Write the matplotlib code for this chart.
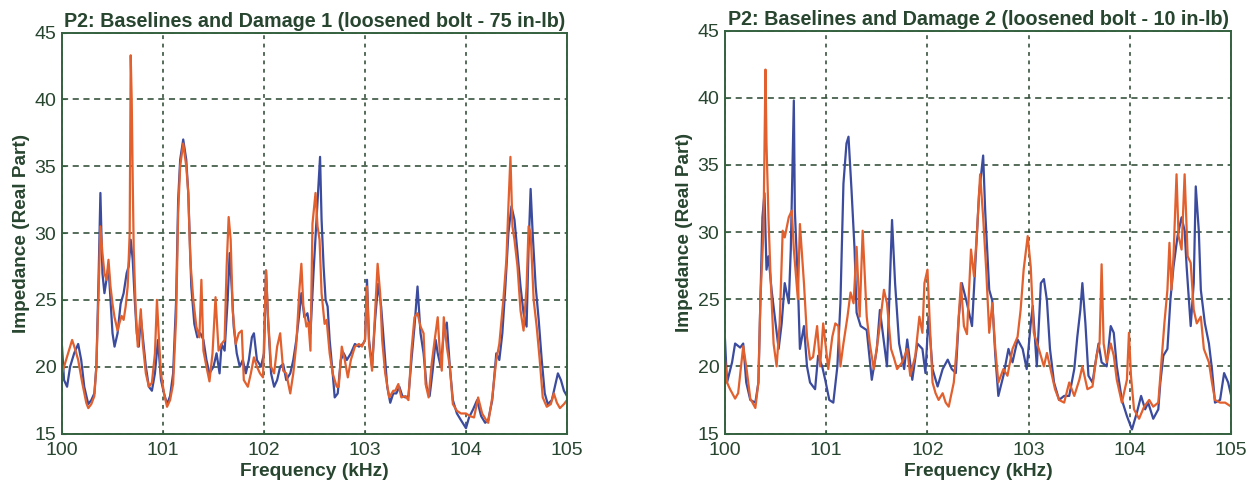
import matplotlib
matplotlib.use("Agg")
import matplotlib.pyplot as plt

# =====================================================
# DATA
# =====================================================

# Panel 1: baseline (blue) and damage 1 (orange)
f_base1 = [100.00, 100.02, 100.05, 100.08, 100.12, 100.16, 100.19, 100.22, 100.26, 100.29,
           100.32, 100.34, 100.36, 100.38, 100.40, 100.42, 100.44, 100.46, 100.48, 100.50,
           100.52, 100.55, 100.58, 100.61, 100.64, 100.66, 100.68, 100.70, 100.72, 100.74,
           100.76, 100.78, 100.80, 100.83, 100.86, 100.89, 100.92, 100.95, 100.98, 101.01,
           101.04, 101.07, 101.10, 101.13, 101.15, 101.17, 101.20, 101.23, 101.25, 101.28,
           101.31, 101.34, 101.37, 101.40, 101.43, 101.46, 101.50, 101.53, 101.56, 101.58,
           101.61, 101.64, 101.66, 101.68, 101.70, 101.73, 101.76, 101.79, 101.82, 101.85,
           101.88, 101.90, 101.93, 101.97, 102.00, 102.02, 102.04, 102.07, 102.10, 102.13,
           102.16, 102.19, 102.22, 102.26, 102.29, 102.32, 102.35, 102.37, 102.40, 102.43,
           102.46, 102.49, 102.52, 102.555, 102.57, 102.59, 102.61, 102.63, 102.65, 102.68,
           102.70, 102.73, 102.76, 102.79, 102.82, 102.86, 102.90, 102.94, 102.98, 103.00,
           103.02, 103.04, 103.07, 103.10, 103.13, 103.16, 103.19, 103.22, 103.25, 103.28,
           103.31, 103.34, 103.37, 103.40, 103.43, 103.46, 103.49, 103.52, 103.55, 103.58,
           103.61, 103.64, 103.67, 103.70, 103.72, 103.75, 103.78, 103.81, 103.84, 103.87,
           103.91, 103.95, 104.00, 104.03, 104.07, 104.11, 104.15, 104.19, 104.22, 104.26,
           104.30, 104.33, 104.36, 104.39, 104.42, 104.45, 104.48, 104.51, 104.54, 104.57,
           104.60, 104.62, 104.64, 104.66, 104.69, 104.72, 104.75, 104.78, 104.81, 104.85,
           104.88, 104.91, 104.94, 104.97, 105.00]
z_base1 = [21.5, 19.0, 18.5, 20.0, 21.0, 21.7, 20.5, 18.5, 17.2, 17.5,
           18.0, 20.0, 26.0, 33.0, 27.0, 25.5, 26.5, 27.5, 25.0, 22.5,
           21.5, 22.5, 24.7, 25.5, 27.0, 27.5, 29.5, 28.0, 25.0, 22.5,
           21.5, 23.7, 22.2, 20.0, 18.5, 18.2, 19.5, 22.0, 19.0, 18.0,
           17.2, 17.8, 19.5, 25.0, 32.5, 35.5, 37.0, 35.5, 33.0, 26.0,
           23.2, 22.2, 22.5, 22.0, 20.5, 19.5, 20.0, 21.0, 19.5, 21.7,
           21.2, 25.0, 28.5, 26.0, 23.0, 21.0, 20.0, 20.5, 19.5, 20.5,
           22.2, 22.5, 20.5, 20.0, 21.0, 27.2, 23.5, 19.5, 18.5, 19.0,
           20.0, 20.2, 19.0, 19.5, 20.5, 22.0, 24.0, 25.5, 23.7, 24.0,
           22.5, 27.0, 31.0, 35.7, 31.0, 27.5, 25.0, 24.5, 22.0, 19.5,
           17.7, 18.0, 20.5, 21.0, 20.5, 21.0, 21.7, 21.5, 21.7, 22.0,
           26.5, 22.0, 20.0, 23.5, 26.2, 24.5, 21.5, 18.5, 17.3, 18.0,
           18.0, 18.5, 17.8, 17.7, 17.8, 20.5, 23.0, 26.0, 22.5, 21.0,
           18.5, 17.8, 19.7, 22.0, 21.0, 20.0, 22.5, 23.3, 20.0, 17.5,
           16.5, 16.0, 15.4, 16.2, 16.8, 17.5, 16.3, 15.8, 16.0, 17.5,
           21.0, 20.5, 22.5, 26.0, 30.0, 32.0, 31.0, 28.5, 26.0, 24.0,
           23.0, 29.0, 33.3, 30.0, 26.0, 23.5, 20.5, 18.0, 17.2, 17.5,
           18.5, 19.5, 19.0, 18.2, 17.8]

f_dmg1 = [100.00, 100.04, 100.08, 100.10, 100.13, 100.16, 100.20, 100.24, 100.26, 100.29,
          100.32, 100.34, 100.36, 100.38, 100.40, 100.42, 100.44, 100.46, 100.48, 100.50,
          100.52, 100.55, 100.57, 100.59, 100.61, 100.63, 100.65, 100.67, 100.68, 100.69,
          100.70, 100.71, 100.73, 100.75, 100.78, 100.80, 100.83, 100.86, 100.89, 100.92,
          100.94, 100.96, 100.98, 101.01, 101.04, 101.07, 101.10, 101.13, 101.15, 101.17,
          101.20, 101.23, 101.25, 101.27, 101.30, 101.33, 101.36, 101.38, 101.40, 101.43,
          101.46, 101.49, 101.52, 101.55, 101.58, 101.61, 101.63, 101.65, 101.67, 101.69,
          101.72, 101.75, 101.78, 101.80, 101.84, 101.87, 101.90, 101.93, 101.96, 101.99,
          102.02, 102.04, 102.07, 102.10, 102.13, 102.16, 102.19, 102.22, 102.26, 102.29,
          102.32, 102.35, 102.37, 102.39, 102.42, 102.44, 102.46, 102.48, 102.51, 102.53,
          102.55, 102.57, 102.60, 102.62, 102.65, 102.68, 102.72, 102.74, 102.77, 102.80,
          102.83, 102.86, 102.90, 102.94, 102.97, 103.00, 103.02, 103.04, 103.07, 103.10,
          103.125, 103.15, 103.17, 103.20, 103.24, 103.28, 103.30, 103.33, 103.36, 103.40,
          103.43, 103.46, 103.49, 103.52, 103.55, 103.58, 103.60, 103.63, 103.66, 103.69,
          103.72, 103.74, 103.76, 103.78, 103.81, 103.84, 103.87, 103.91, 103.95, 104.00,
          104.04, 104.08, 104.12, 104.16, 104.20, 104.22, 104.26, 104.30, 104.33, 104.37,
          104.40, 104.42, 104.44, 104.46, 104.48, 104.51, 104.54, 104.57, 104.60, 104.62,
          104.64, 104.67, 104.70, 104.73, 104.76, 104.80, 104.84, 104.87, 104.90, 104.93,
          104.97, 105.00]
z_dmg1 = [19.5, 20.5, 21.5, 22.0, 21.3, 20.5, 18.8, 17.3, 16.9, 17.2,
          17.8, 20.0, 25.0, 30.5, 28.5, 27.0, 26.5, 28.0, 26.0, 24.7,
          23.7, 22.7, 23.3, 23.8, 23.5, 24.5, 26.0, 30.0, 43.3, 40.0,
          34.0, 28.7, 24.2, 21.5, 24.3, 21.7, 19.5, 18.5, 18.8, 21.0,
          25.0, 22.0, 19.5, 18.0, 17.0, 17.5, 18.7, 23.7, 31.5, 35.0,
          36.7, 35.0, 33.0, 28.0, 25.0, 23.0, 22.2, 26.5, 21.2, 20.0,
          18.9, 21.0, 25.2, 21.2, 21.7, 22.0, 27.5, 31.2, 29.5, 24.2,
          21.7, 22.5, 22.7, 19.0, 18.5, 19.5, 20.7, 20.0, 19.5, 19.2,
          27.2, 23.7, 20.0, 19.5, 21.5, 22.5, 19.7, 19.5, 18.0, 19.5,
          21.7, 25.7, 27.7, 24.5, 23.0, 23.3, 21.2, 30.7, 33.0, 30.5,
          29.5, 25.5, 23.2, 23.5, 21.0, 19.5, 18.5, 18.5, 21.5, 20.5,
          19.2, 20.5, 21.5, 21.7, 21.5, 22.0, 26.0, 21.7, 19.7, 24.0,
          27.7, 25.5, 22.0, 19.5, 17.7, 18.2, 18.2, 18.7, 17.7, 17.8,
          17.5, 21.2, 23.7, 24.0, 23.0, 22.5, 18.7, 17.7, 20.2, 22.0,
          23.7, 21.2, 19.7, 23.7, 21.5, 20.0, 17.2, 16.7, 16.5, 16.5,
          16.3, 16.2, 17.7, 16.5, 16.0, 15.8, 17.7, 20.5, 21.7, 25.0,
          28.0, 32.0, 35.7, 30.5, 29.5, 27.5, 24.2, 22.7, 26.0, 30.5,
          30.0, 25.0, 23.0, 20.5, 17.7, 17.0, 17.2, 18.0, 17.3, 16.9,
          17.2, 17.5]

# Panel 2: baseline (blue) and damage 2 (orange)
f_base2 = [100.00, 100.02, 100.07, 100.10, 100.15, 100.18, 100.21, 100.25, 100.30, 100.33,
           100.35, 100.37, 100.39, 100.41, 100.43, 100.46, 100.50, 100.53, 100.56, 100.59,
           100.63, 100.65, 100.68, 100.69, 100.72, 100.74, 100.78, 100.81, 100.84, 100.89,
           100.92, 100.96, 100.99, 101.03, 101.07, 101.11, 101.14, 101.17, 101.20, 101.22,
           101.25, 101.28, 101.30, 101.34, 101.40, 101.45, 101.50, 101.53, 101.60, 101.65,
           101.68, 101.72, 101.77, 101.80, 101.85, 101.90, 101.95, 101.98, 102.01, 102.05,
           102.10, 102.15, 102.20, 102.24, 102.28, 102.31, 102.34, 102.39, 102.44, 102.48,
           102.51, 102.55, 102.57, 102.61, 102.64, 102.67, 102.70, 102.75, 102.80, 102.84,
           102.89, 102.94, 102.98, 103.02, 103.04, 103.08, 103.12, 103.15, 103.18, 103.21,
           103.25, 103.30, 103.35, 103.40, 103.45, 103.48, 103.51, 103.53, 103.56, 103.59,
           103.63, 103.66, 103.69, 103.72, 103.77, 103.81, 103.84, 103.87, 103.92, 103.97,
           104.02, 104.07, 104.11, 104.15, 104.18, 104.23, 104.28, 104.30, 104.33, 104.37,
           104.40, 104.43, 104.47, 104.51, 104.54, 104.56, 104.60, 104.63, 104.65, 104.68,
           104.70, 104.74, 104.78, 104.81, 104.84, 104.89, 104.93, 104.97, 105.00]
z_base2 = [22.0, 18.8, 20.3, 21.7, 21.4, 21.7, 18.8, 17.5, 17.3, 18.8,
           25.0, 31.1, 32.9, 27.2, 28.2, 25.7, 23.2, 21.3, 23.2, 26.2,
           24.7, 28.7, 39.8, 31.6, 26.2, 21.3, 23.0, 20.0, 18.8, 18.3,
           20.8, 20.0, 19.0, 17.5, 17.3, 20.0, 24.7, 33.6, 36.6, 37.1,
           33.1, 28.7, 24.0, 23.0, 22.7, 19.0, 21.3, 24.2, 20.0, 30.9,
           26.2, 21.7, 19.8, 22.0, 19.0, 21.7, 21.3, 19.5, 23.7, 19.8,
           18.5, 19.8, 20.5, 19.8, 19.5, 23.7, 26.2, 24.7, 23.0, 28.7,
           32.9, 35.7, 31.6, 25.7, 24.9, 20.8, 17.8, 19.3, 21.3, 20.3,
           22.0, 21.3, 19.8, 23.2, 24.5, 20.0, 26.2, 26.5, 24.9, 21.3,
           18.8, 17.5, 17.8, 17.8, 19.8, 22.2, 24.2, 26.2, 23.2, 19.3,
           18.8, 20.3, 21.7, 20.3, 20.0, 23.0, 22.5, 20.0, 17.5, 16.3,
           15.3, 16.6, 17.8, 16.8, 17.3, 16.1, 16.8, 18.8, 20.8, 21.3,
           25.0, 27.4, 29.7, 31.1, 30.1, 27.4, 23.0, 26.2, 33.4, 30.1,
           25.7, 23.2, 21.7, 19.8, 17.3, 17.5, 19.5, 18.8, 17.8]

f_dmg2 = [100.00, 100.02, 100.05, 100.10, 100.13, 100.18, 100.21, 100.25, 100.30, 100.33,
          100.35, 100.38, 100.40, 100.41, 100.43, 100.45, 100.48, 100.51, 100.54, 100.57,
          100.59, 100.63, 100.66, 100.68, 100.72, 100.74, 100.78, 100.81, 100.84, 100.87,
          100.91, 100.94, 100.97, 101.02, 101.06, 101.09, 101.12, 101.14, 101.17, 101.21,
          101.24, 101.27, 101.30, 101.33, 101.36, 101.40, 101.43, 101.47, 101.52, 101.57,
          101.60, 101.64, 101.67, 101.70, 101.75, 101.80, 101.83, 101.88, 101.92, 101.95,
          101.97, 102.00, 102.02, 102.05, 102.08, 102.11, 102.15, 102.18, 102.21, 102.26,
          102.29, 102.33, 102.36, 102.39, 102.43, 102.46, 102.49, 102.52, 102.55, 102.58,
          102.61, 102.64, 102.67, 102.70, 102.75, 102.79, 102.84, 102.89, 102.92, 102.95,
          102.99, 103.02, 103.05, 103.10, 103.15, 103.18, 103.21, 103.26, 103.30, 103.35,
          103.40, 103.45, 103.50, 103.53, 103.58, 103.63, 103.67, 103.70, 103.72, 103.74,
          103.77, 103.81, 103.84, 103.87, 103.92, 103.97, 103.99, 104.01, 104.04, 104.09,
          104.14, 104.19, 104.23, 104.28, 104.31, 104.34, 104.37, 104.39, 104.41, 104.43,
          104.46, 104.48, 104.51, 104.54, 104.57, 104.60, 104.63, 104.66, 104.70, 104.73,
          104.78, 104.81, 104.84, 104.89, 104.94, 105.00]
z_dmg2 = [20.5, 18.8, 18.3, 17.6, 18.0, 21.5, 20.0, 17.6, 16.9, 18.8,
          25.0, 30.1, 42.1, 36.6, 31.0, 26.7, 21.7, 20.0, 23.2, 30.1,
          29.6, 31.1, 31.6, 28.7, 25.0, 30.6, 26.2, 22.2, 20.5, 20.7,
          23.0, 20.0, 23.2, 19.8, 22.2, 23.2, 23.0, 20.0, 21.7, 23.7,
          25.5, 24.7, 28.9, 23.7, 30.1, 23.7, 21.7, 19.8, 22.5, 25.7,
          24.7, 21.3, 20.6, 19.8, 20.3, 21.3, 19.3, 20.8, 23.7, 22.5,
          26.2, 27.2, 23.7, 18.8, 18.0, 17.5, 18.0, 17.3, 17.0, 18.8,
          21.5, 26.2, 23.0, 22.4, 28.7, 26.7, 30.1, 34.3, 31.1, 27.2,
          22.5, 24.7, 21.3, 18.8, 19.8, 19.3, 21.3, 22.2, 24.2, 27.2,
          29.7, 27.4, 22.5, 21.3, 20.0, 21.0, 20.0, 18.3, 17.5, 17.3,
          18.8, 17.8, 19.0, 20.0, 18.3, 18.5, 20.8, 21.7, 27.6, 21.7,
          20.3, 21.7, 20.8, 19.0, 17.3, 19.0, 22.5, 19.3, 16.8, 16.1,
          17.0, 17.5, 17.0, 17.3, 20.3, 23.2, 25.7, 29.2, 25.7, 28.2,
          34.3, 29.7, 28.7, 34.3, 28.2, 27.7, 24.2, 23.2, 23.7, 21.3,
          20.3, 18.8, 17.5, 17.3, 17.3, 17.0]

titles = ["P2: Baselines and Damage 1 (loosened bolt - 75 in-lb)",
          "P2: Baselines and Damage 2 (loosened bolt - 10 in-lb)"]
x_ticks = [100, 101, 102, 103, 104, 105]
y_ticks = [15, 20, 25, 30, 35, 40, 45]

# =====================================================
# STYLE
# =====================================================

BLUE = "#3b4b9e"
ORANGE = "#e2602e"
GREEN = "#27452f"
FRAME = "#34613f"

plt.rcParams["font.family"] = ["Liberation Sans", "DejaVu Sans"]

fig = plt.figure(figsize=(12.53, 4.86), dpi=100)
ax1 = fig.add_axes([0.0495, 0.108, 0.403, 0.825])
ax2 = fig.add_axes([0.5786, 0.108, 0.404, 0.829])

panels = [
    (ax1, f_base1, z_base1, f_dmg1, z_dmg1, titles[0]),
    (ax2, f_base2, z_base2, f_dmg2, z_dmg2, titles[1]),
]

for ax, fb, zb, fd, zd, title in panels:
    ax.plot(fb, zb, color=BLUE, linewidth=1.6)
    ax.plot(fd, zd, color=ORANGE, linewidth=1.6)

    ax.set_xlim(100, 105)
    ax.set_ylim(15, 45)
    ax.set_xticks(x_ticks)
    ax.set_yticks(y_ticks)
    ax.tick_params(direction="in", length=3, colors=FRAME, labelcolor=GREEN,
                   labelsize=14)
    ax.tick_params(axis="x", pad=6)
    ax.tick_params(axis="y", pad=4)

    # horizontal grid dashed, vertical grid more dotted (as in the MATLAB export)
    ax.yaxis.grid(True, color=GREEN, linestyle=(0, (4, 3)), linewidth=1.1)
    ax.xaxis.grid(True, color=GREEN, linestyle=(0, (2.5, 3)), linewidth=1.1)

    for sp in ax.spines.values():
        sp.set_color(FRAME)
        sp.set_linewidth(1.4)

    ax.set_title(title, fontsize=14.2, fontweight="bold", color=GREEN, pad=4)
    ax.set_xlabel("Frequency (kHz)", fontsize=13.8, fontweight="bold", color=GREEN,
                  labelpad=3)
    ax.set_ylabel("Impedance (Real Part)", fontsize=13.7, fontweight="bold", color=GREEN,
                  labelpad=3)

plt.savefig("out.png", dpi=100)
